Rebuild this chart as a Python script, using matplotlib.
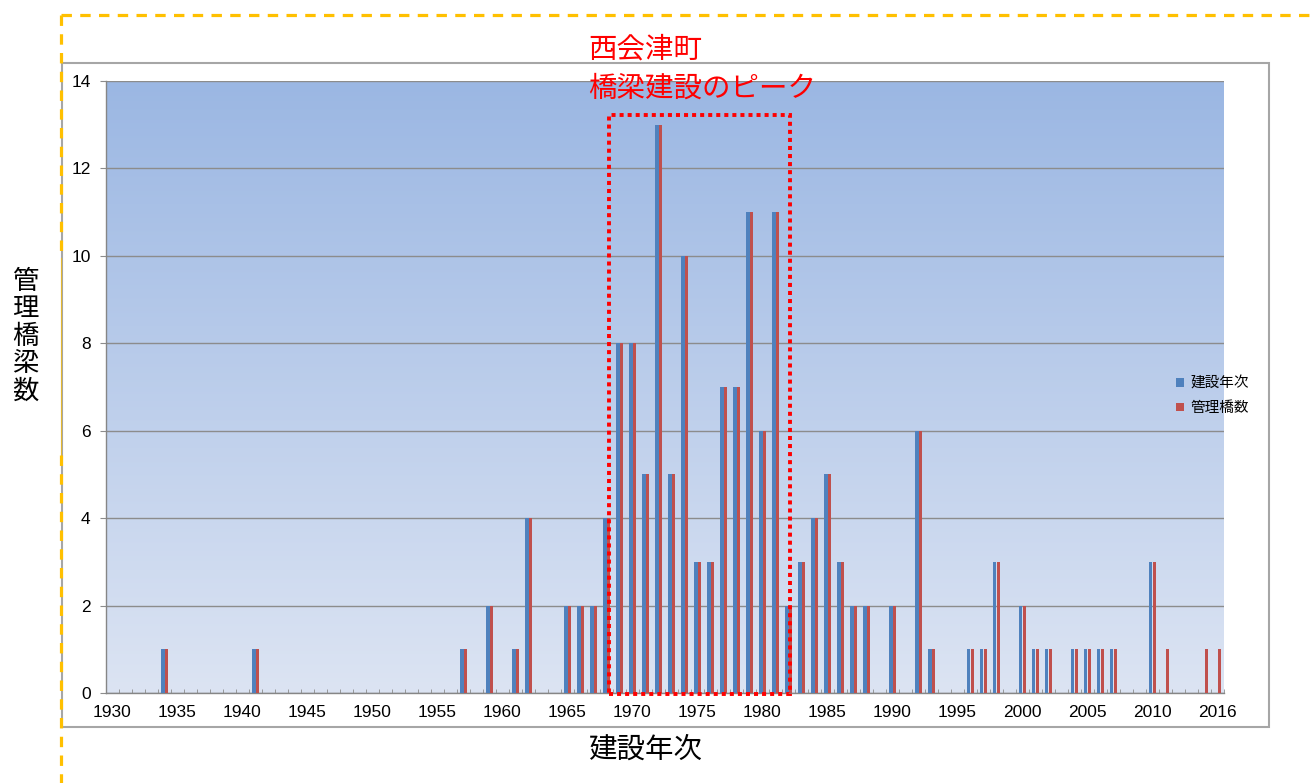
import numpy as np
import matplotlib
matplotlib.use("Agg")
import matplotlib.pyplot as plt
from matplotlib.patches import Rectangle
from matplotlib.lines import Line2D
from matplotlib.colors import LinearSegmentedColormap

plt.rcParams['font.family'] = ['Liberation Sans', 'Noto Sans CJK JP', 'DejaVu Sans']
plt.rcParams['lines.scale_dashes'] = False

# 建設年次 (カテゴリ)
years = list(range(1930, 2011)) + [2011, 2012, 2013, 2014, 2016]

# 建設年次 系列
kensetsu = [
    0, 0, 0, 0, 1, 0, 0, 0, 0, 0,      # 1930-
    0, 1, 0, 0, 0, 0, 0, 0, 0, 0,      # 1940-
    0, 0, 0, 0, 0, 0, 0, 1, 0, 2,      # 1950-
    0, 1, 4, 0, 0, 2, 2, 2, 4, 8,      # 1960-
    8, 5, 13, 5, 10, 3, 3, 7, 7, 11,   # 1970-
    6, 11, 2, 3, 4, 5, 3, 2, 2, 0,     # 1980-
    2, 0, 6, 1, 0, 0, 1, 1, 3, 0,      # 1990-
    2, 1, 1, 0, 1, 1, 1, 1, 0, 0,      # 2000-
    3, 0, 0, 0, 0, 0,                  # 2010-
]

# 管理橋数 系列
kanri = [
    0, 0, 0, 0, 1, 0, 0, 0, 0, 0,
    0, 1, 0, 0, 0, 0, 0, 0, 0, 0,
    0, 0, 0, 0, 0, 0, 0, 1, 0, 2,
    0, 1, 4, 0, 0, 2, 2, 2, 4, 8,
    8, 5, 13, 5, 10, 3, 3, 7, 7, 11,
    6, 11, 2, 3, 4, 5, 3, 2, 2, 0,
    2, 0, 6, 1, 0, 0, 1, 1, 3, 0,
    2, 1, 1, 0, 1, 1, 1, 1, 0, 0,
    3, 1, 0, 0, 1, 1,
]

W, H = 1316, 783
fig = plt.figure(figsize=(W / 100, H / 100), dpi=100)
ax = fig.add_axes([106 / W, 1 - 693 / H, 1118 / W, 612 / H])

n = len(years)
x = np.arange(n)

# 背景グラデーション
cmap = LinearSegmentedColormap.from_list('bg', ['#dce4f3', '#9bb7e3'])
grad = np.linspace(0, 1, 256).reshape(-1, 1)
ax.imshow(grad, extent=[-0.5, n - 0.5, 0, 14], origin='lower', aspect='auto',
          cmap=cmap, zorder=0, interpolation='bicubic')

w = 0.3
b1 = ax.bar(x - w / 2, kensetsu, width=w, color='#4f81bd', label='建設年次', zorder=3)
b2 = ax.bar(x + w / 2, kanri, width=w, color='#c0504d', label='管理橋数', zorder=3)

ax.set_xlim(-0.5, n - 0.5)
ax.set_ylim(0, 14)
ax.set_yticks(range(0, 15, 2))
ax.yaxis.grid(True, color='#8c8c8c', linewidth=1)
ax.set_axisbelow(True)

idx = list(range(0, n, 5))
ax.set_xticks(idx)
ax.set_xticklabels([str(years[i]) for i in idx])
ax.set_xticks(np.arange(-0.5, n, 1), minor=True)
ax.tick_params(axis='x', which='major', length=0, pad=8.5, labelsize=12.5)
ax.tick_params(axis='x', which='minor', direction='in', length=3, color='#8c8c8c')
ax.tick_params(axis='y', length=4, color='#8c8c8c', pad=7, labelsize=12.5)

for s in ['top', 'right']:
    ax.spines[s].set_visible(False)
for s in ['left', 'bottom']:
    ax.spines[s].set_color('#868686')
    ax.spines[s].set_linewidth(1)

# ピーク枠
peak = Rectangle((38.19, -0.03), 52.1 - 38.19, 13.25, fill=False, edgecolor='#ff0000',
                 linewidth=2.8, linestyle=(0, (2.9, 2.9)), clip_on=False, zorder=5)
ax.add_patch(peak)

ax.legend(handles=[b1, b2], loc='center left', bbox_to_anchor=(1169 / W, 1 - 396 / H),
          bbox_transform=fig.transFigure, frameon=False, fontsize=10.5,
          handlelength=0.5, handleheight=0.5, handletextpad=0.45, labelspacing=0.75,
          borderpad=0)

fig.text(588 / W, 1 - 50 / H, '西会津町', color='#ff0000', fontsize=20.5,
         ha='left', va='center')
fig.text(588 / W, 1 - 89 / H, '橋梁建設のピーク', color='#ff0000', fontsize=20.5,
         ha='left', va='center')
fig.text(645 / W, 1 - 750 / H, '建設年次', fontsize=20.5, ha='center', va='center')
fig.text(25 / W, 1 - 337 / H, '\n'.join('管理橋梁数'), fontsize=19, ha='center',
         va='center', linespacing=1.17)

# グラフ枠
fig.add_artist(Rectangle((62 / W, 1 - 727 / H), (1269 - 62) / W, (727 - 63) / H,
                         fill=False, edgecolor='#a6a6a6', linewidth=1.5,
                         transform=fig.transFigure))

# 黄色の点線
yel = '#ffc000'
fig.add_artist(Line2D([61 / W, 1], [1 - 15 / H, 1 - 15 / H], color=yel, linewidth=2.3,
                      linestyle=(0, (7.5, 6)), transform=fig.transFigure))
fig.add_artist(Line2D([61 / W, 61 / W], [1 - 15 / H, 1 - 258 / H], color=yel, linewidth=2.3,
                      linestyle=(0, (7.5, 6)), transform=fig.transFigure))
fig.add_artist(Line2D([61 / W, 61 / W], [1 - 258 / H, 1 - 455 / H], color=yel, linewidth=0.8,
                      alpha=0.7, transform=fig.transFigure))
fig.add_artist(Line2D([61 / W, 61 / W], [1 - 455 / H, 0], color=yel, linewidth=2.3,
                      linestyle=(0, (7.5, 6)), transform=fig.transFigure))

fig.savefig('out.png', dpi=100)
